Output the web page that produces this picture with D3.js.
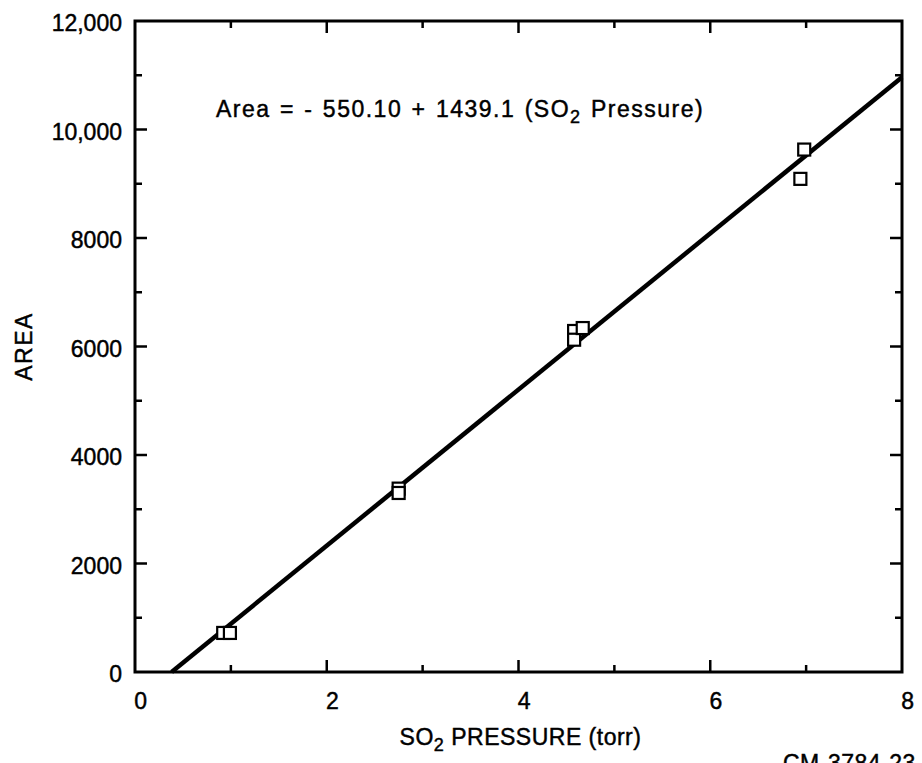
<!DOCTYPE html>
<html>
<head>
<meta charset="utf-8">
<script src="https://cdn.jsdelivr.net/npm/d3@7"></script>
<style>
  html, body { margin: 0; padding: 0; background: #fff; }
  svg { display: block; }
  text {
    font-family: "Liberation Sans", Arial, Helvetica, sans-serif;
    fill: #000; stroke: #000; stroke-width: 0.45px;
    letter-spacing: 0.5px;
  }
  .ytick { letter-spacing: 0px; }
  .eq { letter-spacing: 1.5px; word-spacing: 1.5px; }
  .ytitle { letter-spacing: 1.5px; }
</style>
</head>
<body>
<svg id="chart" width="922" height="763"></svg>
<script>
// Measured SO2 pressure (torr) and peak area
const pressure = [0.92, 0.99, 2.75, 2.75, 4.58, 4.58, 4.67, 6.94, 6.98];
const area     = [720, 720, 3380, 3300, 6286, 6125, 6340, 9090, 9630];

// Least-squares fit: Area = intercept + slope * pressure
const intercept = -550.10;
const slope = 1439.1;

const xTickValues = [0, 2, 4, 6, 8];
const xTickLabels = ["0", "2", "4", "6", "8"];
const yTickValues = [0, 2000, 4000, 6000, 8000, 10000, 12000];
const yTickLabels = ["0", "2000", "4000", "6000", "8000", "10,000", "12,000"];
const xMinorValues = [1, 3, 5, 7];
const yMinorValues = [1000, 3000, 5000, 7000, 9000, 11000];

const svg = d3.select("#chart");
const plotL = 135, plotR = 902, plotT = 21, plotB = 672;
const fs = 23, subFs = 18;

const x = d3.scaleLinear().domain([0, 8]).range([plotL, plotR]);
const y = d3.scaleLinear().domain([0, 12000]).range([plotB, plotT]);

const majorLen = 12, minorLen = 7;
const tickG = svg.append("g").attr("stroke", "#000").attr("stroke-width", 2.5);

// Inward ticks on all four sides
function xTicks(vals, len) {
  vals.forEach(v => {
    tickG.append("line").attr("x1", x(v)).attr("x2", x(v)).attr("y1", plotB).attr("y2", plotB - len);
    tickG.append("line").attr("x1", x(v)).attr("x2", x(v)).attr("y1", plotT).attr("y2", plotT + len);
  });
}
function yTicks(vals, len) {
  vals.forEach(v => {
    tickG.append("line").attr("y1", y(v)).attr("y2", y(v)).attr("x1", plotL).attr("x2", plotL + len);
    tickG.append("line").attr("y1", y(v)).attr("y2", y(v)).attr("x1", plotR).attr("x2", plotR - len);
  });
}
xTicks(xTickValues.slice(1, -1), majorLen);
xTicks(xMinorValues, minorLen);
yTicks(yTickValues.slice(1, -1), majorLen);
yTicks(yMinorValues, minorLen);

// Plot frame
svg.append("rect")
  .attr("x", plotL).attr("y", plotT)
  .attr("width", plotR - plotL).attr("height", plotB - plotT)
  .attr("fill", "none").attr("stroke", "#000").attr("stroke-width", 3);

// Tick labels
svg.append("g").selectAll("text").data(xTickValues).join("text")
  .attr("x", d => x(d) + 6).attr("y", plotB + 37)
  .attr("text-anchor", "middle").attr("font-size", fs)
  .text((d, i) => xTickLabels[i]);

svg.append("g").selectAll("text").data(yTickValues).join("text")
  .attr("class", "ytick")
  .attr("x", plotL - 13).attr("y", d => y(d) + 10)
  .attr("text-anchor", "end").attr("font-size", fs)
  .text((d, i) => yTickLabels[i]);

// Fitted line, from the x-intercept to the right edge
const x0 = -intercept / slope;
const fit = d3.line().x(d => x(d)).y(d => y(intercept + slope * d));
svg.append("path")
  .datum([x0, 8])
  .attr("d", fit)
  .attr("fill", "none").attr("stroke", "#000").attr("stroke-width", 4.5);

// Data points as open squares
const s = 12;
svg.append("g").selectAll("rect").data(pressure).join("rect")
  .attr("x", d => x(d) - s / 2)
  .attr("y", (d, i) => y(area[i]) - s / 2)
  .attr("width", s).attr("height", s)
  .attr("fill", "#fff").attr("stroke", "#000").attr("stroke-width", 2.2);

// Equation
const eq = svg.append("text").attr("class", "eq").attr("x", 216).attr("y", 117).attr("font-size", fs);
eq.append("tspan").text("Area = - 550.10 + 1439.1 (SO");
eq.append("tspan").attr("dy", 6).attr("font-size", subFs).text("2");
eq.append("tspan").attr("dy", -6).text(" Pressure)");

// Axis titles
const xt = svg.append("text").attr("x", x(4) + 2).attr("y", 745)
  .attr("text-anchor", "middle").attr("font-size", fs);
xt.append("tspan").text("SO");
xt.append("tspan").attr("dy", 6).attr("font-size", subFs).text("2");
xt.append("tspan").attr("dy", -6).text(" PRESSURE (torr)");

svg.append("text").attr("class", "ytitle")
  .attr("transform", `translate(32, ${y(6000)}) rotate(-90)`)
  .attr("text-anchor", "middle").attr("font-size", fs)
  .text("AREA");

// Figure number, bottom right
svg.append("text").attr("x", 783).attr("y", 771).attr("font-size", fs).text("CM-3784-23");
</script>
</body>
</html>
